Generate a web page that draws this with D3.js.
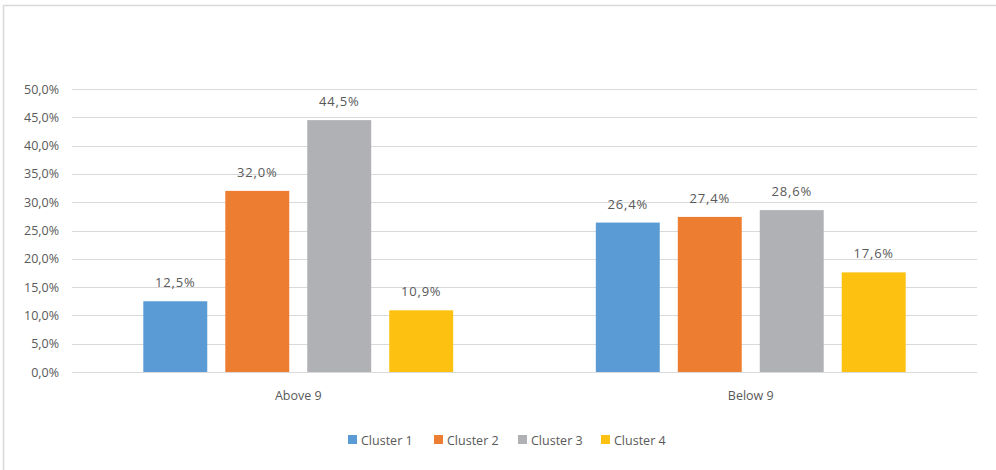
<!DOCTYPE html>
<html><head><meta charset="utf-8">
<script src="https://cdn.jsdelivr.net/npm/d3@7"></script>
<style>
body{margin:0;background:#fff;}
text{font-family:"Open Sans",sans-serif;fill:#595959;}
</style></head><body>
<svg id="chart" width="996" height="470"></svg>
<script>
const categories = ["Above 9", "Below 9"];
const seriesNames = ["Cluster 1", "Cluster 2", "Cluster 3", "Cluster 4"];
const cluster1 = [12.5, 26.4];
const cluster2 = [32.0, 27.4];
const cluster3 = [44.5, 28.6];
const cluster4 = [10.9, 17.6];
const colors = ["#5b9bd5", "#ed7d31", "#b0b1b4", "#fcc111"];
const yTicks = [0, 5, 10, 15, 20, 25, 30, 35, 40, 45, 50];

const seriesValues = [cluster1, cluster2, cluster3, cluster4];
const svg = d3.select("#chart");
const plotLeft = 72, plotRight = 977, plotTop = 89, plotBottom = 372;

// outer border
svg.append("path").attr("d", "M3.5,470 V5.5 H996").attr("fill", "none").attr("stroke", "#d9d9d9").attr("stroke-width", 1.5);

const y = d3.scaleLinear().domain([0, 50]).range([plotBottom, plotTop]);
const x0 = d3.scaleBand().domain(categories).range([plotLeft, plotRight]).paddingInner(0).paddingOuter(0);
const x1 = d3.scaleBand().domain(seriesNames).range([0, x0.bandwidth()]).paddingInner(0.22).paddingOuter(0.87);

const fmt = v => v.toFixed(1).replace(".", ",") + "%";

// gridlines
svg.append("g").selectAll("line").data(yTicks).join("line")
  .attr("x1", plotLeft).attr("x2", plotRight)
  .attr("y1", d => Math.round(y(d)) + 0.5).attr("y2", d => Math.round(y(d)) + 0.5)
  .attr("stroke", "#d9d9d9").attr("stroke-width", 1.2);

// y axis labels
const yAxis = d3.axisLeft(y).tickValues(yTicks).tickSize(0).tickPadding(0).tickFormat(fmt);
const yg = svg.append("g").attr("transform", `translate(${plotLeft - 13},0)`).call(yAxis);
yg.select(".domain").remove();
yg.attr("font-family", null);
yg.selectAll("text").attr("font-size", 12.5).attr("fill", "#595959");

// bars
const groups = svg.append("g").selectAll("g").data(categories).join("g")
  .attr("transform", d => `translate(${x0(d)},0)`);
groups.each(function(cat, ci) {
  const g = d3.select(this);
  seriesNames.forEach((s, si) => {
    const v = seriesValues[si][ci];
    g.append("rect").attr("x", x1(s)).attr("width", x1.bandwidth())
      .attr("y", y(v)).attr("height", plotBottom - y(v)).attr("fill", colors[si]);
    g.append("text").attr("x", x1(s) + x1.bandwidth() / 2).attr("y", y(v) - 14)
      .attr("text-anchor", "middle").attr("font-size", 13).attr("letter-spacing", 0.8).text(fmt(v));
  });
});

// x axis labels
const xAxis = d3.axisBottom(x0).tickSize(0).tickPadding(0);
const xg = svg.append("g").attr("transform", `translate(0,${plotBottom + 19})`).call(xAxis);
xg.select(".domain").remove();
xg.attr("font-family", null);
xg.selectAll("text").attr("font-size", 12.5).attr("fill", "#595959");

// legend
const legendX = [348, 434, 518, 601];
const lg = svg.append("g");
seriesNames.forEach((s, i) => {
  lg.append("rect").attr("x", legendX[i]).attr("y", 435).attr("width", 9).attr("height", 9).attr("fill", colors[i]);
  lg.append("text").attr("x", legendX[i] + 13).attr("y", 445).attr("font-size", 12.5).text(s);
});
</script>
</body></html>
